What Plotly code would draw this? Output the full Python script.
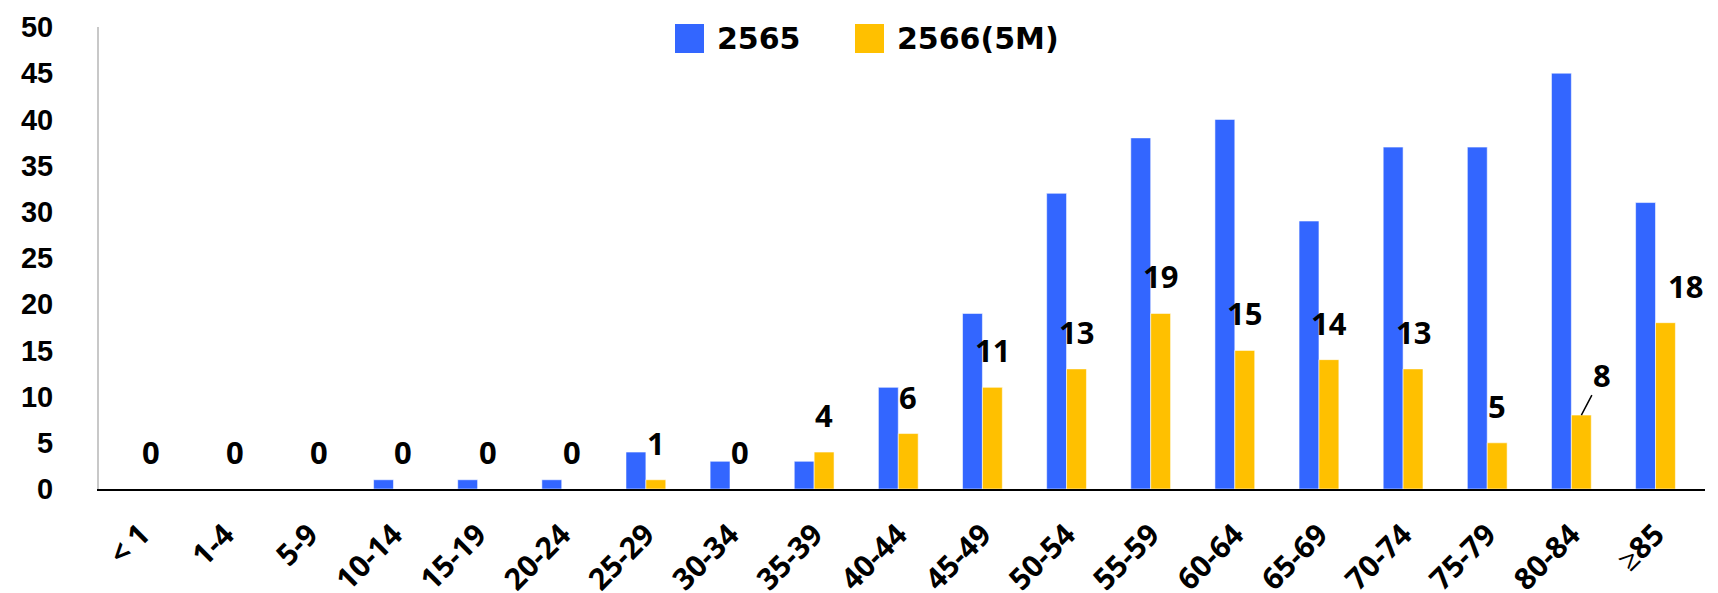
import plotly.graph_objects as go

# Age groups and counts per year
age_groups = ["< 1", "1-4", "5-9", "10-14", "15-19", "20-24", "25-29", "30-34", "35-39",
              "40-44", "45-49", "50-54", "55-59", "60-64", "65-69", "70-74", "75-79",
              "80-84", "≥85"]
counts_2565 = [0, 0, 0, 1, 1, 1, 4, 3, 3, 11, 19, 32, 38, 40, 29, 37, 37, 45, 31]
counts_2566 = [0, 0, 0, 0, 0, 0, 1, 0, 4, 6, 11, 13, 19, 15, 14, 13, 5, 8, 18]
series_names = ["2565", "2566(5M)"]
y_ticks = list(range(0, 51, 5))

BLUE = "#3366FF"
YELLOW = "#FFC000"

W, H = 1718, 593
M_L, M_R, M_T, M_B = 99, 13, 27, 104
PW, PH = W - M_L - M_R, H - M_T - M_B

fig = go.Figure()
fig.add_trace(go.Bar(x=age_groups, y=counts_2565, name=series_names[0],
                     marker=dict(color=BLUE, line=dict(color="rgba(255,255,255,0.55)", width=1)),
                     showlegend=False))
fig.add_trace(go.Bar(x=age_groups, y=counts_2566, name=series_names[1],
                     marker=dict(color=YELLOW, line=dict(color="rgba(255,255,255,0.55)", width=1)),
                     showlegend=False))

# value labels above the 2566 bars
label_font = dict(family="Noto Sans", size=31, color="black", weight="bold")
annotations = []
for i, (g, v) in enumerate(zip(age_groups, counts_2566)):
    if g == "80-84":
        annotations.append(dict(x=g, y=v, xref="x", yref="y", text=str(v), xshift=10,
                                showarrow=True, arrowhead=0, arrowwidth=1.5, arrowcolor="black",
                                ax=21, ay=-40, standoff=0, font=label_font))
    else:
        extra = 20 if g == "≥85" else 0
        annotations.append(dict(x=g, y=v, xref="x", yref="y", text=str(v),
                                xshift=10 + extra, yshift=37, showarrow=False, font=label_font))

# legend drawn as large swatches across the top
def px_x(p):
    return (p - M_L) / PW

def px_y(p):
    return (H - M_B - p) / PH

legend_font = dict(family="DejaVu Sans", size=30, color="black", weight="bold")
shapes = []
for name, color, sx in [(series_names[0], BLUE, 675), (series_names[1], YELLOW, 855)]:
    shapes.append(dict(type="rect", xref="paper", yref="paper",
                       x0=px_x(sx), x1=px_x(sx + 29), y0=px_y(53), y1=px_y(24),
                       fillcolor=color, line=dict(width=0)))
    annotations.append(dict(x=px_x(sx + 40), y=px_y(38.5), xref="paper", yref="paper",
                            xanchor="left", yanchor="middle", text=name, showarrow=False,
                            font=legend_font))

fig.update_layout(
    width=W, height=H,
    margin=dict(l=M_L, r=M_R, t=M_T, b=M_B),
    paper_bgcolor="white", plot_bgcolor="white",
    barmode="group", bargap=0.527, bargroupgap=0,
    annotations=annotations, shapes=shapes,
    showlegend=False,
)
fig.update_xaxes(
    type="category", showgrid=False, zeroline=False, automargin=False,
    showline=True, linecolor="black", linewidth=2,
    ticks="", tickangle=-45, ticklabelstandoff=14,
    tickfont=dict(family="Noto Sans", size=30, color="black", weight="bold"),
)
fig.update_yaxes(
    range=[0, 50], tickvals=y_ticks, showgrid=False, zeroline=False, automargin=False,
    showline=True, linecolor="#c8c8c8", linewidth=2,
    ticks="", ticklabelstandoff=38,
    tickfont=dict(family="Liberation Sans", size=29, color="black", weight="bold"),
)

fig.write_html("out.html")
